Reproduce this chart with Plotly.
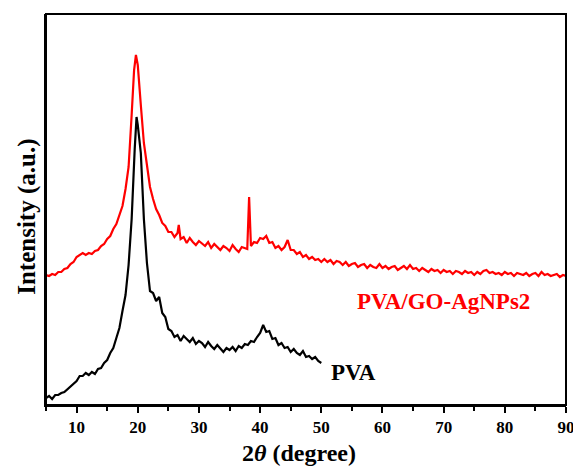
import numpy as np
import plotly.graph_objects as go

def grid(a, b):
    return [round(v, 2) for v in np.arange(a, b + 0.001, 0.5)]

# PVA (black): 2theta (degree) and intensity (arbitrary units)
pva_x = grid(5.0, 19.5) + [19.8] + grid(20.0, 50.0)
pva_y = [7, 9, 6, 10, 10, 12, 13, 16, 18, 22, 24, 29, 29, 32, 30, 33, 31, 36, 37, 42,
         45, 52, 57, 67, 77, 94, 110, 140, 186, 256,
         288,
         280, 252, 186, 142, 114, 112, 104, 108, 92, 88,
         76, 74, 68, 70, 64, 69, 66, 63, 67, 61,
         64, 62, 58, 63, 59, 56, 60, 57, 53, 57,
         55, 58, 54, 59, 57, 61, 60, 64, 63, 68,
         72, 80, 73, 74, 66, 67, 60, 62, 57, 58,
         53, 56, 52, 50, 54, 48, 49, 46, 48, 44,
         42]

# PVA/GO-AgNPs2 (red)
comp_x = (grid(5.0, 19.0) + [19.4, 19.7] + grid(20.0, 26.5) + [26.7] +
          grid(27.0, 37.5) + [37.9, 38.2] + grid(38.5, 90.0))
comp_y = [130, 129, 131, 130, 133, 133, 136, 137, 141, 143, 148, 150, 152, 150, 152, 151,
          154, 155, 159, 161, 166, 169, 176, 181, 190, 199, 216, 238, 290,
          335, 350,
          340, 300, 262, 240, 218, 206, 196, 190, 182, 179, 173, 173, 168, 172,
          180,
          166, 168, 162, 167, 163, 160, 164, 161, 159, 163, 157, 161, 158, 155, 159, 157,
          154, 160, 156, 153, 158, 157,
          156, 208,
          159, 163, 162, 167, 166, 169, 162, 163, 157, 159, 155, 158, 165, 155, 155, 151,
          153, 148, 150, 146, 148, 145, 146, 143,
          146, 143, 145, 141, 144, 143, 140, 143, 139, 141,
          142, 138, 140, 141, 137, 140, 138, 137, 141, 137,
          139, 136, 138, 139, 135, 137, 139, 136, 140, 136,
          137, 134, 137, 135, 133, 136, 134, 135, 132, 135,
          133, 134, 131, 134, 133, 131, 134, 132, 133, 130,
          133, 131, 134, 135, 132, 133, 131, 132, 130, 133,
          131, 132, 129, 132, 131, 130, 132, 129, 131, 132,
          129, 133, 130, 131, 129, 130, 131, 128, 130, 129]

assert len(pva_x) == len(pva_y)
assert len(comp_x) == len(comp_y)

x_ticks = [10, 20, 30, 40, 50, 60, 70, 80, 90]
labels = ["PVA/GO-AgNPs2", "PVA"]

FONT = "Liberation Serif, Times New Roman, serif"

fig = go.Figure()
fig.add_trace(go.Scatter(x=comp_x, y=comp_y, mode="lines",
                         line=dict(color="#ff0000", width=2.2), showlegend=False))
fig.add_trace(go.Scatter(x=pva_x, y=pva_y, mode="lines",
                         line=dict(color="#000000", width=2.2), showlegend=False))

fig.add_annotation(x=69.9, y=104, text="<b>%s</b>" % labels[0], showarrow=False,
                   font=dict(family=FONT, size=23, color="#ff0000"))
fig.add_annotation(x=55.3, y=33, text="<b>%s</b>" % labels[1], showarrow=False,
                   font=dict(family=FONT, size=23, color="#000000"))

fig.add_annotation(xref="paper", yref="paper", x=0.486, y=-0.123,
                   text="<b>2<i>θ</i> (degree)</b>", showarrow=False,
                   xanchor="center", yanchor="middle",
                   font=dict(family=FONT, size=24, color="#000000"))
fig.add_annotation(xref="paper", yref="paper", x=-0.038, y=0.482,
                   text="<b>Intensity (a.u.)</b>", showarrow=False, textangle=-90,
                   xanchor="center", yanchor="middle",
                   font=dict(family=FONT, size=25, color="#000000"))

# frame
fig.add_shape(type="rect", xref="paper", yref="paper", x0=0, y0=0, x1=1, y1=1,
              line=dict(color="black", width=2), layer="above")

# page body has an 8px margin, so the figure is shrunk and shifted accordingly
fig.update_layout(
    width=573, height=458,
    margin=dict(l=38, r=10, t=6, b=61),
    paper_bgcolor="white", plot_bgcolor="white",
    xaxis=dict(range=[5, 90], tickvals=x_ticks, ticktext=[str(v) for v in x_ticks],
               ticks="outside", ticklen=6, tickwidth=2, tickcolor="black",
               minor=dict(ticks="outside", ticklen=4, tickwidth=2, dtick=5, tick0=5, tickcolor="black"),
               showline=True, linewidth=2, linecolor="black", mirror=False,
               showgrid=False, zeroline=False,
               tickfont=dict(family=FONT, size=17, color="black", weight="bold")),
    yaxis=dict(range=[0, 391], showticklabels=False, ticks="",
               showline=True, linewidth=2, linecolor="black", mirror=False,
               showgrid=False, zeroline=False),
)

fig.write_html("out.html")
